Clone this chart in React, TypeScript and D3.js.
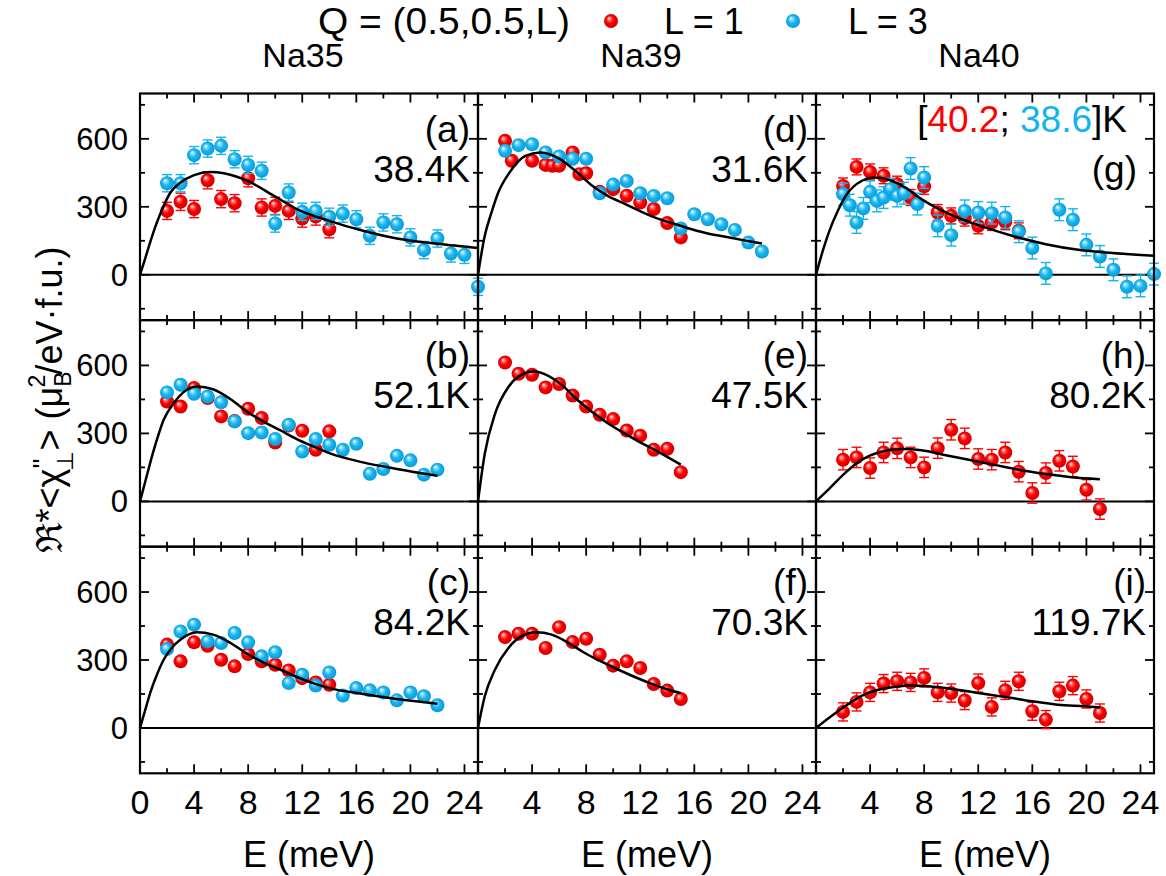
import React from 'react';
import * as d3 from 'd3';

// ---------- layout constants ----------
const W = 1166, H = 876;
const LEFT = 140, TOP = 93.5, PW = 338, PH = 226.6;
const X_DOMAIN: [number, number] = [0, 25];
const Y_DOMAIN: [number, number] = [-200, 800];
const RED = '#ff0000';
const BLUE = '#12b4ee';
const FONT = "'Liberation Sans', Arial, Helvetica, sans-serif";

// ---------- labels ----------
const compounds = ['Na35', 'Na39', 'Na40'];
const panelLetters = [['(a)', '(b)', '(c)'], ['(d)', '(e)', '(f)'], ['(g)', '(h)', '(i)']];
const temps = [['38.4K', '52.1K', '84.2K'], ['31.6K', '47.5K', '70.3K'], ['', '80.2K', '119.7K']];
const yTickLabels = [0, 300, 600];
const xTickLabelsFirst = [0, 4, 8, 12, 16, 20, 24];
const xTickLabelsOther = [4, 8, 12, 16, 20, 24];
const xMinorTicks = [2, 4, 6, 8, 10, 12, 14, 16, 18, 20, 22, 24];
const yMinorTicks = [-150, 0, 150, 300, 450, 600, 750];

// ---------- data: Na35 ----------
const a_L1_E = [2, 3, 4, 5, 6, 7, 8, 9, 10, 11, 12, 13, 14];
const a_L1_V = [282, 322, 290, 417, 334, 316, 426, 297, 304, 282, 248, 257, 201];
const a_L3_E = [2, 3, 4, 5, 6, 7, 8, 9, 10, 11, 12, 13, 14, 15, 16, 17, 18, 19, 20, 21, 22, 23, 24, 25];
const a_L3_V = [404, 404, 528, 557, 569, 510, 485, 459, 226, 363, 278, 282, 256, 270, 245, 172, 231, 223, 165, 109, 160, 94, 88, -53];
const a_fit_E = [0, 0.4, 0.75, 1.25, 1.75, 2.25, 3, 4, 5.2, 6.2, 8, 10, 11.6, 14, 16.5, 19, 21.5, 25];
const a_fit_V = [0, 75, 143, 231, 304, 363, 407, 440, 454, 448, 413, 345, 290, 238, 194, 160, 140, 118];

const b_L1_E = [2, 3, 4, 5, 6, 7, 8, 9, 10, 11, 12, 13, 14];
const b_L1_V = [441, 419, 500, 456, 375, 355, 409, 368, 260, 335, 312, 228, 309];
const b_L3_E = [2, 3, 4, 5, 6, 7, 8, 9, 10, 11, 12, 13, 14, 15, 16, 17, 18, 19, 20, 21, 22];
const b_L3_V = [481, 515, 475, 463, 437, 353, 301, 304, 275, 338, 220, 275, 250, 228, 254, 122, 143, 201, 181, 118, 140];
const b_fit_E = [0, 0.4, 0.75, 1.25, 1.75, 2.5, 3.2, 4.2, 5.4, 6.7, 7.9, 9.1, 10.4, 11.6, 12.8, 14, 16.5, 19, 22];
const b_fit_V = [0, 90, 169, 272, 360, 434, 481, 507, 495, 451, 397, 353, 313, 275, 243, 213, 172, 143, 113];

const c_L1_E = [2, 3, 4, 5, 6, 7, 8, 9, 10, 11, 12, 13, 14];
const c_L1_V = [368, 294, 378, 363, 301, 272, 326, 294, 279, 254, 220, 201, 191];
const c_L3_E = [2, 3, 4, 5, 6, 7, 8, 9, 10, 11, 12, 13, 14, 15, 16, 17, 18, 19, 20, 21, 22];
const c_L3_V = [348, 426, 456, 382, 375, 419, 378, 316, 334, 198, 235, 187, 245, 143, 176, 166, 157, 122, 157, 140, 100];
const c_fit_E = [0, 0.4, 0.75, 1.25, 1.75, 2.3, 3, 4.2, 5.4, 6.7, 7.9, 9.1, 10.4, 11.6, 12.8, 14, 16.5, 19, 22];
const c_fit_V = [0, 82, 154, 235, 301, 350, 390, 422, 412, 375, 328, 290, 257, 225, 198, 176, 150, 128, 107];

// ---------- data: Na39 ----------
const d_L1_E = [2, 2.5, 4, 5, 5.5, 6, 7, 7.5, 8, 9, 10, 11, 12, 13, 14, 15];
const d_L1_V = [591, 503, 503, 485, 481, 481, 540, 444, 448, 366, 378, 349, 319, 290, 228, 165];
const d_L3_E = [2, 3, 4, 5, 6, 7, 8, 9, 10, 11, 12, 13, 14, 15, 16, 17, 18, 19, 20, 21];
const d_L3_V = [547, 572, 576, 540, 522, 512, 512, 360, 398, 414, 360, 348, 338, 204, 267, 245, 223, 198, 142, 103];
const d_fit_E = [0, 0.5, 1, 1.5, 2.25, 3.5, 4.6, 6, 7.2, 8.4, 9.6, 10.9, 12.1, 13.3, 14.6, 15.8, 17, 18.3, 19.5, 21];
const d_fit_V = [0, 172, 275, 363, 444, 525, 540, 513, 459, 395, 348, 312, 278, 248, 223, 201, 182, 168, 154, 138];

const e_L1_E = [2, 3, 4, 5, 6, 7, 8, 9, 10, 11, 12, 13, 14, 15];
const e_L1_V = [613, 563, 559, 503, 518, 467, 419, 382, 363, 313, 290, 228, 232, 129];
const e_fit_E = [0, 0.5, 1.25, 2.25, 3, 4.1, 5.2, 6.2, 7.2, 8.4, 9.6, 10.9, 12.1, 13.3, 15];
const e_fit_V = [0, 210, 385, 505, 551, 573, 554, 514, 456, 397, 345, 298, 257, 220, 162];

const f_L1_E = [2, 3, 4, 5, 6, 7, 8, 9, 10, 11, 12, 13, 14, 15];
const f_L1_V = [401, 416, 416, 353, 445, 379, 394, 323, 275, 294, 265, 194, 165, 128];
const f_fit_E = [0, 0.5, 1.25, 2.25, 3.2, 4.3, 5.45, 6.7, 7.9, 9.1, 10.4, 11.6, 12.8, 14.1, 15];
const f_fit_V = [0, 140, 257, 353, 404, 422, 412, 375, 331, 294, 257, 225, 196, 169, 154];

// ---------- data: Na40 ----------
const g_L1_E = [2, 3, 4, 5, 6, 7, 8, 9, 10, 11, 12, 13, 14, 15];
const g_L1_V = [392, 476, 454, 437, 400, 341, 390, 275, 260, 250, 216, 231, 234, 194];
const g_L3_E = [2, 2.5, 3, 3.5, 4, 4.5, 5, 5.5, 6, 6.5, 7, 7.5, 8, 9, 10, 11, 12, 13, 14, 15, 16, 17, 18, 19, 20, 21, 22, 23, 24, 25];
const g_L3_V = [356, 307, 231, 293, 366, 326, 341, 378, 348, 360, 469, 312, 429, 216, 175, 282, 275, 272, 253, 190, 118, 6, 287, 243, 132, 81, 22, -53, -49, 3];
const g_fit_E = [0, 0.5, 0.95, 1.6, 2.2, 3.4, 4.3, 5.4, 6.6, 7.8, 9.1, 10.8, 12.5, 14.5, 17, 19.4, 21.9, 25];
const g_fit_V = [0, 105, 187, 280, 348, 415, 429, 419, 385, 334, 290, 245, 209, 172, 135, 110, 96, 84];

const h_L1_E = [2, 3, 4, 5, 6, 7, 8, 9, 10, 11, 12, 13, 14, 15, 16, 17, 18, 19, 20, 21];
const h_L1_V = [184, 194, 147, 216, 234, 194, 150, 235, 316, 278, 187, 184, 216, 131, 37, 125, 179, 154, 51, -34];
const h_fit_E = [0, 0.95, 2.2, 3.4, 4.6, 6.4, 7.8, 9.6, 11.3, 13.3, 15, 17, 18.9, 21];
const h_fit_V = [0, 54, 128, 184, 216, 231, 226, 204, 184, 160, 140, 121, 106, 98];

const i_L1_E = [2, 3, 4, 5, 6, 7, 8, 9, 10, 11, 12, 13, 14, 15, 16, 17, 18, 19, 20, 21];
const i_L1_V = [71, 115, 157, 196, 206, 201, 221, 157, 154, 121, 198, 93, 166, 206, 74, 37, 162, 187, 128, 66];
const i_fit_E = [0, 0.95, 2.2, 3.4, 4.6, 5.9, 7.1, 8.3, 10.1, 12, 14, 16, 17.9, 19.9, 21];
const i_fit_V = [0, 44, 98, 143, 169, 182, 187, 184, 172, 154, 137, 118, 103, 96, 91];

// error bar half-lengths per series
const errA = 38, errB = 10, errC = 18, errD = 12, errE = 0, errF = 0, errGred = 35, errGblue = 48, errH = 45, errI = 40;

type Series = { E: number[]; V: number[]; color: 'red' | 'blue'; err: number };
type Panel = { col: number; row: number; series: Series[]; fitE: number[]; fitV: number[] };

const panels: Panel[] = [
  { col: 0, row: 0, series: [{ E: a_L1_E, V: a_L1_V, color: 'red', err: errA }, { E: a_L3_E, V: a_L3_V, color: 'blue', err: errA }], fitE: a_fit_E, fitV: a_fit_V },
  { col: 0, row: 1, series: [{ E: b_L1_E, V: b_L1_V, color: 'red', err: errB }, { E: b_L3_E, V: b_L3_V, color: 'blue', err: errB }], fitE: b_fit_E, fitV: b_fit_V },
  { col: 0, row: 2, series: [{ E: c_L1_E, V: c_L1_V, color: 'red', err: errC }, { E: c_L3_E, V: c_L3_V, color: 'blue', err: errC }], fitE: c_fit_E, fitV: c_fit_V },
  { col: 1, row: 0, series: [{ E: d_L1_E, V: d_L1_V, color: 'red', err: errD }, { E: d_L3_E, V: d_L3_V, color: 'blue', err: errD }], fitE: d_fit_E, fitV: d_fit_V },
  { col: 1, row: 1, series: [{ E: e_L1_E, V: e_L1_V, color: 'red', err: errE }], fitE: e_fit_E, fitV: e_fit_V },
  { col: 1, row: 2, series: [{ E: f_L1_E, V: f_L1_V, color: 'red', err: errF }], fitE: f_fit_E, fitV: f_fit_V },
  { col: 2, row: 0, series: [{ E: g_L1_E, V: g_L1_V, color: 'red', err: errGred }, { E: g_L3_E, V: g_L3_V, color: 'blue', err: errGblue }], fitE: g_fit_E, fitV: g_fit_V },
  { col: 2, row: 1, series: [{ E: h_L1_E, V: h_L1_V, color: 'red', err: errH }], fitE: h_fit_E, fitV: h_fit_V },
  { col: 2, row: 2, series: [{ E: i_L1_E, V: i_L1_V, color: 'red', err: errI }], fitE: i_fit_E, fitV: i_fit_V },
];

const R = 7;

function Sphere({ cx, cy, color }: { cx: number; cy: number; color: 'red' | 'blue' }) {
  return <circle cx={cx} cy={cy} r={R} fill={`url(#grad-${color})`} />;
}

function PanelView({ p }: { p: Panel }) {
  const x0 = LEFT + p.col * PW;
  const y0 = TOP + p.row * PH;
  const x = d3.scaleLinear().domain(X_DOMAIN).range([x0, x0 + PW]);
  const y = d3.scaleLinear().domain(Y_DOMAIN).range([y0 + PH, y0]);
  const line = d3.line<number>().x((_, i) => x(p.fitE[i])).y((v) => y(v)).curve(d3.curveMonotoneX);
  const tickMaj = 9, tickMin = 5;
  return (
    <g>
      <line x1={x0} x2={x0 + PW} y1={y(0)} y2={y(0)} stroke="#000" strokeWidth={2} />
      {xMinorTicks.map((t) => {
        const L = t % 4 === 0 ? tickMaj : tickMin;
        return (
          <g key={'xt' + t}>
            <line x1={x(t)} x2={x(t)} y1={y0} y2={y0 + L} stroke="#000" strokeWidth={1.8} />
            <line x1={x(t)} x2={x(t)} y1={y0 + PH} y2={y0 + PH - L} stroke="#000" strokeWidth={1.8} />
          </g>
        );
      })}
      {yMinorTicks.map((t) => {
        const L = t % 300 === 0 ? tickMaj : tickMin;
        return (
          <g key={'yt' + t}>
            <line x1={x0} x2={x0 + L} y1={y(t)} y2={y(t)} stroke="#000" strokeWidth={1.8} />
            <line x1={x0 + PW} x2={x0 + PW - L} y1={y(t)} y2={y(t)} stroke="#000" strokeWidth={1.8} />
          </g>
        );
      })}
      {p.series.map((s, si) => (
        <g key={'s' + si}>
          {s.E.map((e, i) => {
            const cx = x(e), cy = y(s.V[i]);
            const col = s.color === 'red' ? RED : BLUE;
            return (
              <g key={i}>
                {s.err > 0 && (
                  <g stroke={col} strokeWidth={1.4}>
                    <line x1={cx} x2={cx} y1={y(s.V[i] + s.err)} y2={y(s.V[i] - s.err)} />
                    <line x1={cx - 5} x2={cx + 5} y1={y(s.V[i] + s.err)} y2={y(s.V[i] + s.err)} />
                    <line x1={cx - 5} x2={cx + 5} y1={y(s.V[i] - s.err)} y2={y(s.V[i] - s.err)} />
                  </g>
                )}
                <Sphere cx={cx} cy={cy} color={s.color} />
              </g>
            );
          })}
        </g>
      ))}
      <path d={line(p.fitV) || ''} fill="none" stroke="#000" strokeWidth={2.5} />
      <rect x={x0} y={y0} width={PW} height={PH} fill="none" stroke="#000" strokeWidth={2.2} />
    </g>
  );
}

export default function App() {
  return (
    <svg width={W} height={H} style={{ position: 'absolute', left: 0, top: 0, background: '#fff' }} fontFamily={FONT}>
      <defs>
        <radialGradient id="grad-red" cx="50%" cy="50%" r="55%" fx="35%" fy="30%">
          <stop offset="0%" stopColor="#ffffff" />
          <stop offset="22%" stopColor="#ff7070" />
          <stop offset="50%" stopColor="#ff0000" />
          <stop offset="100%" stopColor="#c80000" />
        </radialGradient>
        <radialGradient id="grad-blue" cx="50%" cy="50%" r="55%" fx="35%" fy="30%">
          <stop offset="0%" stopColor="#ffffff" />
          <stop offset="22%" stopColor="#80dcff" />
          <stop offset="50%" stopColor="#19b6f0" />
          <stop offset="100%" stopColor="#0696d4" />
        </radialGradient>
      </defs>
      <rect x={0} y={0} width={W} height={H} fill="#fff" />

      {panels.map((p, k) => <PanelView key={k} p={p} />)}

      {panels.map((p, k) => {
        const xr = LEFT + (p.col + 1) * PW - 8;
        const y0 = TOP + p.row * PH;
        const t = temps[p.col][p.row];
        if (p.col === 2 && p.row === 0) {
          return (
            <g key={'lab' + k} fontSize={37}>
              <text x={xr - 19} y={y0 + 38} textAnchor="end">
                <tspan fill="#000">[</tspan>
                <tspan fill={RED}>40.2</tspan>
                <tspan fill="#000">; </tspan>
                <tspan fill={BLUE}>38.6</tspan>
                <tspan fill="#000">]K</tspan>
              </text>
              <text x={xr - 9} y={y0 + 88} textAnchor="end">{panelLetters[p.col][p.row]}</text>
            </g>
          );
        }
        return (
          <g key={'lab' + k} fontSize={37}>
            <text x={xr} y={y0 + 48} textAnchor="end">{panelLetters[p.col][p.row]}</text>
            <text x={xr} y={y0 + 88} textAnchor="end">{t}</text>
          </g>
        );
      })}

      {[0, 1, 2].map((row) => {
        const y = d3.scaleLinear().domain(Y_DOMAIN).range([TOP + (row + 1) * PH, TOP + row * PH]);
        return yTickLabels.map((v) => (
          <text key={row + '-' + v} x={128} y={y(v) + 11} textAnchor="end" fontSize={31}>{v}</text>
        ));
      })}

      {[0, 1, 2].map((col) => {
        const x = d3.scaleLinear().domain(X_DOMAIN).range([LEFT + col * PW, LEFT + (col + 1) * PW]);
        const labs = col === 0 ? xTickLabelsFirst : xTickLabelsOther;
        return (
          <g key={'xl' + col}>
            {labs.map((v) => (
              <text key={v} x={x(v)} y={814} textAnchor="middle" fontSize={34}>{v}</text>
            ))}
            <text x={LEFT + col * PW + PW / 2} y={867} textAnchor="middle" fontSize={36}>E (meV)</text>
            <text x={LEFT + col * PW + PW / 2 - 6} y={67} textAnchor="middle" fontSize={34}>{compounds[col]}</text>
          </g>
        );
      })}

      <text x={318} y={34} fontSize={36} textLength={252} lengthAdjust="spacingAndGlyphs">Q = (0.5,0.5,L)</text>
      <Sphere cx={611} cy={21} color="red" />
      <text x={664} y={34} fontSize={36}>L = 1</text>
      <Sphere cx={793} cy={21} color="blue" />
      <text x={848} y={34} fontSize={36}>L = 3</text>

      <text transform="translate(62,400) rotate(-90)" textAnchor="middle" fontSize={36}>
        <tspan>ℜ*&lt;χ</tspan>
        <tspan fontSize={28} dy={-10}>{'"'}</tspan>
        <tspan fontSize={23} dx={-12} dy={21}>⊥</tspan>
        <tspan dy={-11}>&gt; (μ</tspan>
        <tspan fontSize={23} dy={9}>B</tspan>
        <tspan fontSize={23} dx={-16} dy={-26}>2</tspan>
        <tspan dy={17}>/eV·f.u.)</tspan>
      </text>
    </svg>
  );
}
